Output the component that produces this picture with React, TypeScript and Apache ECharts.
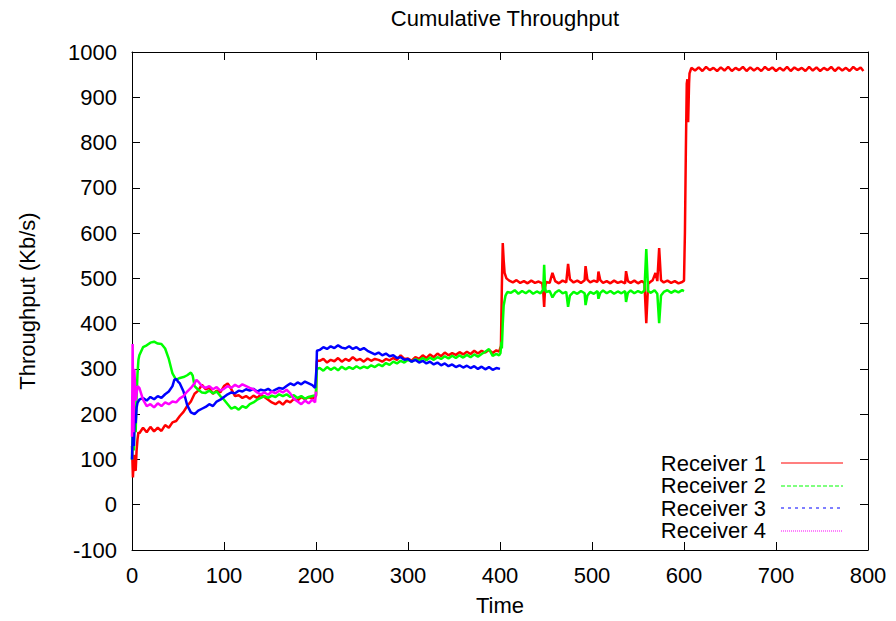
import React, { useEffect, useRef } from "react";
import * as echarts from "echarts";

const titleText = "Cumulative Throughput";
const xName = "Time";
const yName = "Throughput (Kb/s)";
const seriesNames = ["Receiver 1", "Receiver 2", "Receiver 3", "Receiver 4"];
const seriesColors = ["#ff0000", "#00ff00", "#0000ff", "#ff00ff"];
const legendDash: (number[] | null)[] = [null, [4, 2], [3, 4], [1, 1]];

const receiver1: [number, number][] = [
  [0, 130], [1, 60], [2, 110], [3, 80], [4, 75], [5, 120], [6, 145], [7, 160],
  [8, 158], [12, 170], [16, 160], [20, 172], [24, 162], [28, 170], [32, 163], [36, 176],
  [40, 170], [44, 182], [48, 185], [52, 196], [56, 205], [60, 218], [64, 228], [68, 245],
  [72, 252], [76, 265], [80, 255], [84, 258], [88, 245], [92, 252], [96, 248], [100, 262],
  [104, 268], [108, 255], [112, 240], [116, 242], [120, 236], [124, 240], [128, 234], [132, 241],
  [136, 236], [140, 243], [144, 238], [148, 232], [152, 226], [156, 222], [160, 228], [164, 221],
  [168, 230], [172, 226], [176, 234], [180, 230], [184, 238], [188, 233], [192, 238], [196, 234],
  [200, 240], [200.5, 300], [201, 318],
  [204, 318], [208, 322], [212, 314], [216, 320], [220, 317], [224, 324], [228, 316], [232, 322],
  [236, 318], [240, 326], [244, 319], [248, 322], [252, 316], [256, 323], [260, 318], [264, 322],
  [268, 320], [272, 316], [276, 322], [280, 319], [284, 324], [288, 320], [292, 330], [296, 322],
  [300, 323], [304, 318], [308, 326], [312, 322], [316, 330], [320, 324], [324, 332], [328, 326],
  [332, 334], [336, 328], [340, 336], [344, 330], [348, 335], [352, 331], [356, 337], [360, 332],
  [364, 338], [368, 333], [372, 340], [376, 334], [380, 340], [384, 336], [388, 342], [392, 335],
  [396, 341], [399, 338], [401, 350], [402, 480], [403, 578], [404, 540], [405, 512], [407, 500],
  [410, 495], [414, 491], [418, 496], [422, 490], [426, 494], [430, 489], [434, 495], [438, 490],
  [442, 493], [446, 489], [447, 470], [448, 437], [449, 480], [450, 492], [454, 490], [457, 512],
  [460, 494], [464, 489], [468, 495], [472, 491], [474, 532], [476, 498], [480, 491], [484, 495],
  [488, 490], [492, 496], [493, 527], [495, 497], [498, 491], [502, 495], [506, 492], [507, 515],
  [509, 496], [512, 490], [516, 494], [520, 489], [524, 495], [528, 490], [532, 493], [536, 489],
  [537, 516], [539, 494], [542, 490], [546, 495], [550, 489], [554, 494], [557, 490], [559, 401],
  [561, 488], [564, 493], [566, 496], [569, 512], [571, 494], [573, 567], [575, 496], [578, 491],
  [582, 495], [586, 490], [590, 494], [594, 489], [598, 492], [600, 495],
  [601, 600], [602, 780], [603, 930], [603.7, 940], [604.5, 845], [605.5, 930], [606, 953], [608, 965],
  [612, 959], [616, 966], [620, 958], [624, 967], [628, 960], [632, 965], [636, 958], [640, 966],
  [644, 959], [648, 967], [652, 958], [656, 965], [660, 960], [664, 967], [668, 958], [672, 966],
  [676, 959], [680, 965], [684, 958], [688, 967], [692, 960], [696, 966], [700, 958], [704, 965],
  [708, 959], [712, 967], [716, 958], [720, 966], [724, 960], [728, 965], [732, 958], [736, 967],
  [740, 959], [744, 966], [748, 958], [752, 965], [756, 960], [760, 967], [764, 958], [768, 966],
  [772, 959], [776, 965], [780, 958], [784, 967], [788, 960], [792, 966], [795, 958],
];

const receiver2: [number, number][] = [
  [0, 100], [1, 180], [2, 120], [3, 210], [4, 160], [5, 240], [6, 290], [7, 320], [8, 330],
  [12, 348], [16, 352], [20, 358], [24, 360], [28, 356], [32, 355], [36, 345], [40, 322],
  [44, 290], [48, 276], [52, 280], [56, 282], [60, 286], [64, 292], [66, 285], [68, 262],
  [72, 254], [76, 248], [80, 247], [84, 252], [88, 246], [92, 250], [96, 240], [100, 232],
  [104, 222], [108, 212], [112, 216], [116, 210], [120, 218], [124, 214], [128, 222], [132, 226],
  [136, 232], [140, 236], [144, 240], [148, 236], [152, 241], [156, 238], [160, 244], [164, 240],
  [168, 244], [172, 238], [176, 242], [180, 236], [184, 240], [188, 234], [192, 238], [196, 240],
  [200, 242], [200.5, 280], [201, 300],
  [204, 302], [208, 296], [212, 304], [216, 298], [220, 303], [224, 297], [228, 305], [232, 299],
  [236, 304], [240, 300], [244, 306], [248, 301], [252, 305], [256, 302], [260, 308], [264, 304],
  [268, 310], [272, 306], [276, 313], [280, 309], [284, 316], [288, 312], [292, 318], [296, 314],
  [300, 320], [304, 316], [308, 322], [312, 318], [316, 324], [320, 319], [324, 325], [328, 320],
  [332, 326], [336, 322], [340, 328], [344, 323], [348, 329], [352, 324], [356, 330], [360, 325],
  [364, 331], [368, 326], [372, 332], [376, 327], [380, 333], [384, 338], [388, 344], [392, 329],
  [396, 333], [399, 330], [400.5, 335], [401.5, 360], [402, 345], [403, 400], [404, 440], [406, 462],
  [408, 470], [412, 468], [416, 474], [420, 466], [424, 472], [428, 467], [432, 473], [436, 466],
  [440, 471], [444, 467], [447, 475], [448, 530], [449, 478], [450, 470], [454, 472], [457, 458],
  [460, 468], [464, 474], [468, 467], [472, 470], [474, 437], [476, 462], [480, 470], [484, 466],
  [488, 472], [492, 467], [493, 441], [495, 462], [498, 470], [502, 466], [506, 472], [507, 455],
  [509, 468], [512, 473], [516, 467], [520, 472], [524, 466], [528, 471], [532, 467], [536, 472],
  [537, 448], [539, 468], [542, 473], [546, 467], [550, 472], [554, 468], [557, 473], [559, 565],
  [561, 472], [564, 468], [568, 474], [571, 466], [573, 401], [575, 462], [578, 470], [582, 474],
  [586, 468], [590, 473], [594, 469], [598, 474], [600, 472],
];

const receiver3: [number, number][] = [
  [0, 100], [1, 170], [2, 130], [3, 200], [4, 180], [5, 215], [6, 225], [8, 232],
  [12, 236], [16, 230], [20, 238], [24, 233], [28, 240], [32, 236], [36, 244], [40, 250],
  [44, 262], [46, 276], [48, 278], [50, 272], [52, 268], [56, 250], [60, 220], [64, 204],
  [68, 200], [72, 208], [76, 212], [80, 216], [84, 222], [88, 218], [92, 228], [96, 232],
  [100, 238], [104, 244], [108, 248], [112, 246], [116, 252], [120, 250], [124, 255], [128, 252],
  [132, 256], [136, 250], [140, 254], [144, 252], [148, 256], [152, 250], [156, 254], [160, 258],
  [164, 256], [168, 262], [172, 268], [176, 264], [180, 270], [184, 266], [188, 272], [192, 268],
  [196, 264], [199, 258], [200.5, 300], [201, 340],
  [204, 342], [208, 348], [212, 344], [216, 350], [220, 346], [224, 352], [228, 347], [232, 345],
  [236, 350], [240, 344], [244, 348], [248, 342], [252, 346], [256, 340], [260, 336], [264, 332],
  [268, 336], [272, 330], [276, 334], [280, 328], [284, 330], [288, 324], [292, 326], [296, 320],
  [300, 322], [304, 316], [308, 320], [312, 314], [316, 318], [320, 312], [324, 316], [328, 310],
  [332, 314], [336, 308], [340, 312], [344, 306], [348, 310], [352, 304], [356, 308], [360, 303],
  [364, 307], [368, 302], [372, 306], [376, 300], [380, 305], [384, 299], [388, 304], [392, 298],
  [396, 302], [400, 300],
];

const receiver4: [number, number][] = [
  [0, 150], [0.7, 355], [1.5, 160], [2.5, 300], [4, 230], [6, 262], [8, 258],
  [12, 232], [16, 218], [20, 222], [24, 215], [28, 224], [32, 218], [36, 226], [40, 222],
  [44, 228], [48, 226], [52, 235], [56, 240], [60, 250], [64, 258], [68, 268], [70, 276],
  [72, 272], [76, 262], [80, 258], [84, 262], [88, 255], [92, 260], [96, 252], [100, 256],
  [104, 262], [108, 258], [112, 265], [116, 260], [120, 266], [124, 262], [128, 258], [132, 255],
  [136, 248], [140, 244], [144, 248], [148, 243], [152, 250], [156, 246], [160, 252], [164, 248],
  [168, 254], [172, 246], [176, 234], [180, 228], [184, 222], [188, 230], [192, 224], [196, 232],
  [199, 226], [200, 250],
];

const seriesData = [receiver1, receiver2, receiver3, receiver4];

const FONT = '"Liberation Sans", Arial, Helvetica, sans-serif';

export default function App() {
  const ref = useRef<HTMLDivElement>(null);
  useEffect(() => {
    if (!ref.current) return;
    const chart = echarts.init(ref.current, null, { renderer: "svg" });
    const axisCommon = {
      type: "value" as const,
      axisLine: { show: true, onZero: false, lineStyle: { color: "#000", width: 1 } },
      axisTick: { show: true, inside: true, length: 8, lineStyle: { color: "#000", width: 1 } },
      splitLine: { show: false },
    };
    const legendRows = [463, 485.5, 508, 530.5];
    const graphics: any[] = [];
    seriesNames.forEach((n, i) => {
      graphics.push({
        type: "text",
        x: 766,
        y: legendRows[i],
        z: 10,
        style: {
          text: n,
          font: `22px ${FONT}`,
          lineHeight: 21,
          fill: "#000",
          textAlign: "right",
          textVerticalAlign: "middle",
        },
      });
      const ly = Math.round(legendRows[i]);
      const lineStyle: any = { stroke: seriesColors[i], lineWidth: 1.2, fill: null };
      if (legendDash[i]) lineStyle.lineDash = legendDash[i];
      graphics.push({
        type: "polyline",
        z: 10,
        shape: { points: [[781, ly], [843, ly]] },
        style: lineStyle,
      });
    });
    chart.setOption({
      animation: false,
      backgroundColor: "#fff",
      title: {
        text: titleText,
        left: 500,
        textAlign: "center",
        top: 2,
        textStyle: { fontFamily: FONT, fontSize: 22, fontWeight: "normal", color: "#000" },
      },
      grid: { left: 132, right: 28, top: 52, bottom: 71 },
      xAxis: [
        {
          ...axisCommon,
          position: "bottom",
          min: 0,
          max: 800,
          interval: 100,
          name: xName,
          nameLocation: "middle",
          nameGap: 44,
          nameTextStyle: { fontFamily: FONT, fontSize: 22, color: "#000" },
          axisLabel: { fontFamily: FONT, fontSize: 22, color: "#000", margin: 14, formatter: (v: number) => String(v) },
        },
        {
          ...axisCommon,
          position: "top",
          min: 0,
          max: 800,
          interval: 100,
          axisLabel: { show: false },
        },
      ],
      yAxis: [
        {
          ...axisCommon,
          position: "left",
          min: -100,
          max: 1000,
          interval: 100,
          name: yName,
          nameLocation: "middle",
          nameGap: 94,
          nameTextStyle: { fontFamily: FONT, fontSize: 22, color: "#000" },
          axisLabel: { fontFamily: FONT, fontSize: 22, color: "#000", margin: 15, formatter: (v: number) => String(v) },
        },
        {
          ...axisCommon,
          position: "right",
          min: -100,
          max: 1000,
          interval: 100,
          axisLabel: { show: false },
        },
      ],
      series: seriesData.map((d, i) => ({
        name: seriesNames[i],
        type: "line",
        xAxisIndex: 0,
        yAxisIndex: 0,
        data: d,
        showSymbol: false,
        symbol: "none",
        lineStyle: { color: seriesColors[i], width: 2.5 },
        itemStyle: { color: seriesColors[i] },
        z: 2 + i,
      })),
      graphic: graphics,
    });
    return () => chart.dispose();
  }, []);
  return (
    <div
      ref={ref}
      style={{ position: "fixed", left: 0, top: 0, width: 896, height: 621, background: "#fff" }}
    />
  );
}
